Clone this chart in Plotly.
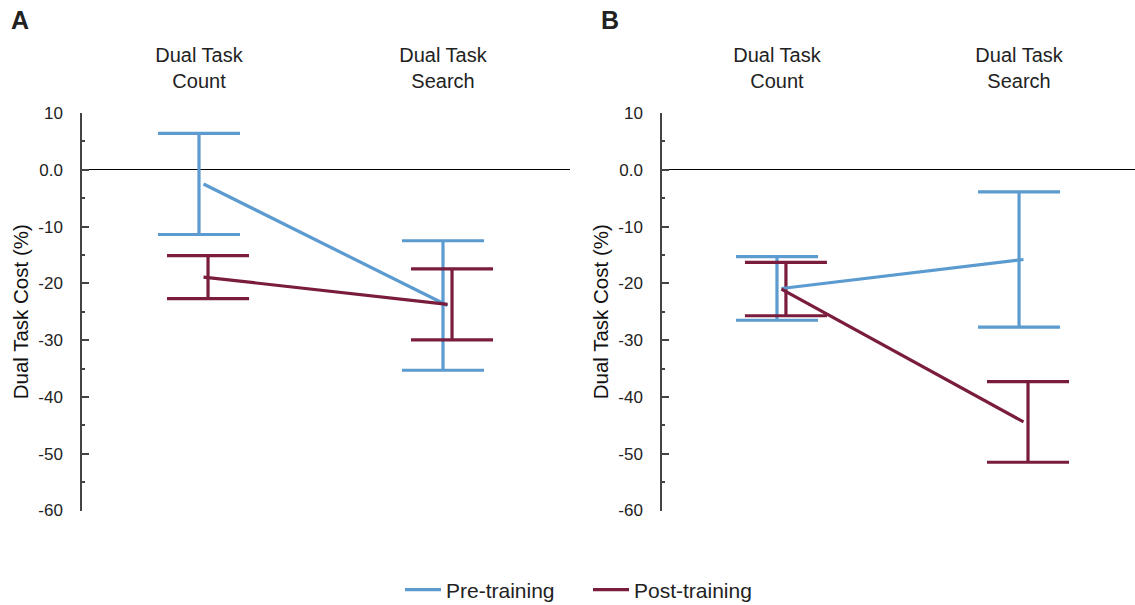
import plotly.graph_objects as go

# Conditions along the x-axis
conditions = ["Dual Task<br>Count", "Dual Task<br>Search"]
cond_pos = [0, 1]

# Panel A: mean dual-task cost (%) and error half-widths
a_pre_mean = [-2.5, -23.9]
a_pre_err = [8.9, 11.4]
a_post_mean = [-18.9, -23.7]
a_post_err = [3.8, 6.25]

# Panel B
b_pre_mean = [-20.9, -15.8]
b_pre_err = [5.6, 11.9]
b_post_mean = [-21.0, -44.4]
b_post_err = [4.7, 7.1]

y_ticks = [10, 0, -10, -20, -30, -40, -50, -60]
y_ticktext = ["10", "0.0", "-10", "-20", "-30", "-40", "-50", "-60"]

PRE = "#5b9bd0"
POST = "#7a1c3b"
FONT = "Liberation Sans, Arial, sans-serif"

POST_SHIFT = 0.037   # post-training bars sit slightly right of pre-training
LINE_SHIFT = POST_SHIFT / 2

fig = go.Figure()


def add_panel(xa, ya, pre_m, pre_e, post_m, post_e, legend):
    for mean, err, color, shift in [
        (pre_m, pre_e, PRE, 0.0),
        (post_m, post_e, POST, POST_SHIFT),
    ]:
        fig.add_trace(go.Scatter(
            x=[p + shift for p in cond_pos], y=mean, mode="markers",
            marker=dict(size=1, color="rgba(0,0,0,0)"),
            error_y=dict(type="data", array=err, visible=True, color=color,
                         thickness=3.2, width=41),
            xaxis=xa, yaxis=ya, showlegend=False, hoverinfo="skip",
        ))
    for mean, color, name in [(pre_m, PRE, "Pre-training"), (post_m, POST, "Post-training")]:
        fig.add_trace(go.Scatter(
            x=[p + LINE_SHIFT for p in cond_pos], y=mean, mode="lines",
            line=dict(color=color, width=3.2), name=name,
            xaxis=xa, yaxis=ya, showlegend=legend,
        ))


add_panel("x", "y", a_pre_mean, a_pre_err, a_post_mean, a_post_err, True)
add_panel("x2", "y2", b_pre_mean, b_pre_err, b_post_mean, b_post_err, False)

y_dom = [1 - 510.5 / 605, 1 - 113 / 605]


def xaxis(dom, rng, anchor):
    return dict(
        domain=dom, range=rng, anchor=anchor, side="top",
        tickvals=cond_pos, ticktext=conditions, ticks="",
        showline=False, showgrid=False, zeroline=False,
        tickfont=dict(family=FONT, size=20, color="#222"),
        ticklabelstandoff=20, automargin=False,
    )


def yaxis(anchor):
    return dict(
        domain=y_dom, range=[-60, 10], anchor=anchor,
        tickvals=y_ticks, ticktext=y_ticktext,
        ticks="inside", ticklen=7, tickwidth=1.5, tickcolor="#444",
        minor=dict(dtick=5, tick0=0, ticks="inside", ticklen=3,
                   tickcolor="#444", tickwidth=1.5),
        showline=True, linecolor="#444", linewidth=1.5,
        showgrid=False,
        zeroline=True, zerolinecolor="black", zerolinewidth=1.4,
        tickfont=dict(family=FONT, size=17, color="#222"),
        ticklabelstandoff=14, automargin=False,
        title=dict(text="Dual Task Cost (%)",
                   font=dict(family=FONT, size=20.5, color="#111"), standoff=4),
    )


fig.update_layout(
    width=1135, height=605,
    margin=dict(l=0, r=0, t=0, b=0, autoexpand=False),
    plot_bgcolor="white", paper_bgcolor="white",
    xaxis=xaxis([82 / 1135, 570 / 1135], [-0.4795, 1.5205], "y"),
    xaxis2=xaxis([662 / 1135, 1.0], [-0.475, 1.479], "y2"),
    yaxis=yaxis("x"),
    yaxis2=yaxis("x2"),
    legend=dict(orientation="h", x=400 / 1135, xanchor="left",
                y=1 - 590 / 605, yanchor="middle",
                font=dict(family=FONT, size=21, color="#222"),
                itemwidth=36, entrywidth=137),
    annotations=[
        dict(text="<b>A</b>", x=20 / 1135, y=1 - 20 / 605),
        dict(text="<b>B</b>", x=610 / 1135, y=1 - 20 / 605),
    ],
)
fig.update_annotations(xref="paper", yref="paper", showarrow=False,
                       xanchor="center", yanchor="middle",
                       font=dict(family=FONT, size=25, color="#222"))

fig.write_html("out.html")
